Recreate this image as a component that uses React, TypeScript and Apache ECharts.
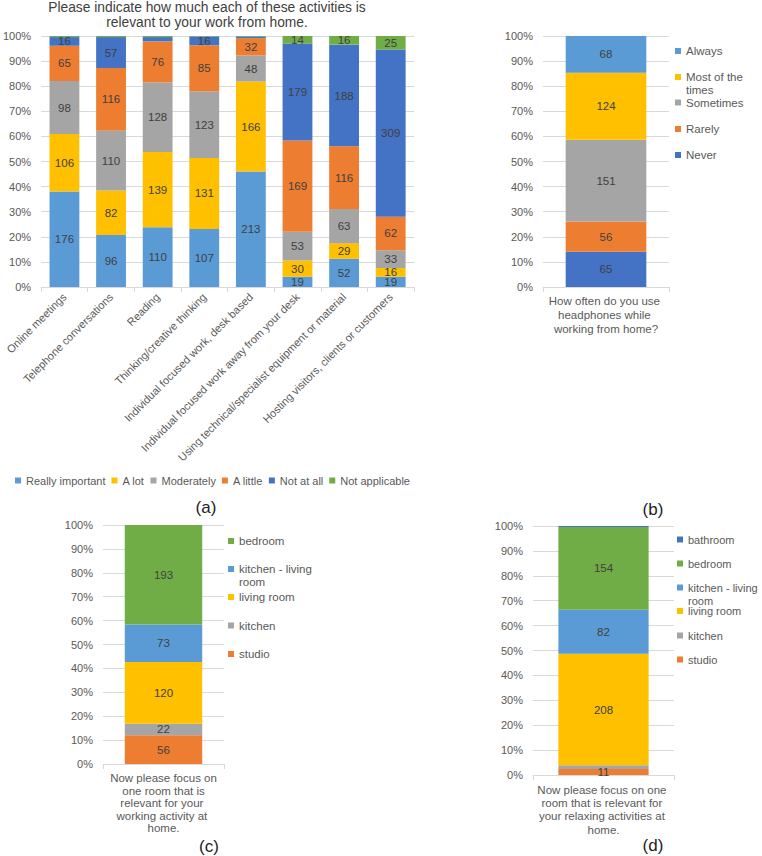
import React, { useEffect, useRef } from "react";
import * as echarts from "echarts";

const FONT = "'Liberation Sans', Arial, sans-serif";

// ---- (a) activities ----
const activityCategories = [
  "Online meetings",
  "Telephone conversations",
  "Reading",
  "Thinking/creative thinking",
  "Individual focused work, desk based",
  "Individual focused work away from your desk",
  "Using technical/specialist equipment or material",
  "Hosting visitors, clients or customers",
];
const reallyImportant = [176, 96, 110, 107, 213, 19, 52, 19];
const aLot = [106, 82, 139, 131, 166, 30, 29, 16];
const moderately = [98, 110, 128, 123, 48, 53, 63, 33];
const aLittle = [65, 116, 76, 85, 32, 169, 116, 62];
const notAtAll = [16, 57, 8, 16, 3, 179, 188, 309];
const notApplicable = [2, 2, 2, 1, 1, 14, 16, 25];

// ---- (b) headphones ----
const headphoneCategory = ["How often do you use headphones while working from home?"];
const hpNever = [65];
const hpRarely = [56];
const hpSometimes = [151];
const hpMostOfTheTimes = [124];
const hpAlways = [68];

// ---- (c) working room ----
const workRoomCategory = ["Now please focus on one room that is relevant for your working activity at home."];
const workStudio = [56];
const workKitchen = [22];
const workLivingRoom = [120];
const workKitchenLiving = [73];
const workBedroom = [193];

// ---- (d) relaxing room ----
const relaxRoomCategory = ["Now please focus on one room that is relevant for your relaxing activities at home."];
const relaxStudio = [11];
const relaxKitchen = [7];
const relaxLivingRoom = [208];
const relaxKitchenLiving = [82];
const relaxBedroom = [154];
const relaxBathroom = [2];

const C = {
  blue: "#5B9BD5",
  yellow: "#FFC000",
  gray: "#A5A5A5",
  orange: "#ED7D31",
  darkBlue: "#4472C4",
  green: "#70AD47",
};

type Group = { name: string; values: number[]; color: string };

function stackedSeries(groups: Group[], idx: number, stack: string) {
  const n = groups[0].values.length;
  const totals = Array.from({ length: n }, (_, j) => groups.reduce((s, g) => s + g.values[j], 0));
  return groups.map((g) => ({
    type: "bar",
    name: g.name,
    stack,
    xAxisIndex: idx,
    yAxisIndex: idx,
    barCategoryGap: "36%",
    data: g.values.map((v, j) => (v / totals[j]) * 100),
    itemStyle: { color: g.color },
    emphasis: { disabled: true },
    label: {
      show: true,
      position: "inside",
      fontSize: 11.5,
      fontFamily: FONT,
      color: "#404040",
      formatter: (p: any) => (g.values[p.dataIndex] >= 10 ? String(g.values[p.dataIndex]) : ""),
    },
  }));
}

const grids = [
  { left: 38, top: 36, width: 376, height: 251 },
  { left: 543, top: 36, width: 126, height: 251 },
  { left: 103, top: 525, width: 121, height: 239 },
  { left: 533, top: 526, width: 141, height: 249 },
];

function yAxis(idx: number) {
  return {
    type: "value",
    gridIndex: idx,
    min: 0,
    max: 100,
    interval: 10,
    axisLine: { show: false },
    axisTick: { show: false },
    splitLine: { lineStyle: { color: "#D9D9D9" } },
    axisLabel: { formatter: "{value}%", fontSize: 11, color: "#595959", margin: 10, fontFamily: FONT },
  };
}

function xAxis(idx: number, data: string[], label: any) {
  return {
    type: "category",
    gridIndex: idx,
    data,
    axisLine: { lineStyle: { color: "#D9D9D9" } },
    axisTick: { show: true, length: 5, lineStyle: { color: "#D9D9D9" } },
    axisLabel: { interval: 0, color: "#595959", fontFamily: FONT, ...label },
  };
}

// square marker at the top of a 6x19 box, so it lines up with the first line of a wrapped name
const TOP_SQUARE = "path://M0 0h6v6h-6Z M3 18.99L3 19";

// one legend component per entry, so each entry sits at the same place as in the reference
function vLegend(entries: { name: string; y: number; breakAfter?: string }[], left: number, fontSize: number) {
  return entries.map((e) => ({
    orient: "vertical",
    left,
    top: e.y - 6.5,
    padding: 0,
    itemWidth: 6,
    itemHeight: e.breakAfter ? 19 : 6,
    icon: e.breakAfter ? TOP_SQUARE : "rect",
    selectedMode: false,
    data: [e.name],
    formatter: (name: string) =>
      e.breakAfter && name.startsWith(e.breakAfter)
        ? e.breakAfter + "\n" + name.slice(e.breakAfter.length).trim()
        : name,
    textStyle: {
      fontSize,
      color: "#595959",
      fontFamily: FONT,
      lineHeight: 13,
    },
  }));
}

export default function App() {
  const ref = useRef<HTMLDivElement>(null);
  useEffect(() => {
    document.body.style.margin = "0";
    if (!ref.current) return;
    const chart = echarts.init(ref.current, undefined, { renderer: "svg" });

    const aGroups: Group[] = [
      { name: "Really important", values: reallyImportant, color: C.blue },
      { name: "A lot", values: aLot, color: C.yellow },
      { name: "Moderately", values: moderately, color: C.gray },
      { name: "A little", values: aLittle, color: C.orange },
      { name: "Not at all", values: notAtAll, color: C.darkBlue },
      { name: "Not applicable", values: notApplicable, color: C.green },
    ];
    const bGroups: Group[] = [
      { name: "Never", values: hpNever, color: C.darkBlue },
      { name: "Rarely", values: hpRarely, color: C.orange },
      { name: "Sometimes", values: hpSometimes, color: C.gray },
      { name: "Most of the times", values: hpMostOfTheTimes, color: C.yellow },
      { name: "Always", values: hpAlways, color: C.blue },
    ];
    const cGroups: Group[] = [
      { name: "studio", values: workStudio, color: C.orange },
      { name: "kitchen", values: workKitchen, color: C.gray },
      { name: "living room", values: workLivingRoom, color: C.yellow },
      { name: "kitchen - living room", values: workKitchenLiving, color: C.blue },
      { name: "bedroom", values: workBedroom, color: C.green },
    ];
    const dGroups: Group[] = [
      { name: "studio", values: relaxStudio, color: C.orange },
      { name: "kitchen", values: relaxKitchen, color: C.gray },
      { name: "living room", values: relaxLivingRoom, color: C.yellow },
      { name: "kitchen - living room", values: relaxKitchenLiving, color: C.blue },
      { name: "bedroom", values: relaxBedroom, color: C.green },
      { name: "bathroom", values: relaxBathroom, color: C.darkBlue },
    ];

    const caption = (text: string, x: number, y: number) => ({
      type: "text",
      x,
      y,
      style: { text, align: "center", verticalAlign: "middle", fontSize: 17, fill: "#222", fontFamily: FONT },
    });

    chart.setOption({
      animation: false,
      textStyle: { fontFamily: FONT },
      grid: grids,
      xAxis: [
        xAxis(0, activityCategories, { rotate: 45, fontSize: 11, margin: 8 }),
        xAxis(1, headphoneCategory, { fontSize: 11.5, width: 120, overflow: "break", lineHeight: 14, margin: 7 }),
        xAxis(2, workRoomCategory, { fontSize: 11.5, width: 108, overflow: "break", lineHeight: 12.5, margin: 8 }),
        xAxis(3, relaxRoomCategory, { fontSize: 11.5, width: 140, overflow: "break", lineHeight: 13.3, margin: 8 }),
      ],
      yAxis: [yAxis(0), yAxis(1), yAxis(2), yAxis(3)],
      legend: [
        {
          orient: "horizontal",
          left: 15,
          top: 475,
          padding: 0,
          itemGap: 6,
          itemWidth: 6,
          itemHeight: 6,
          icon: "rect",
          selectedMode: false,
          data: aGroups.map((g) => g.name),
          textStyle: { fontSize: 11, color: "#595959", fontFamily: FONT },
        },
        ...vLegend(
          [
            { name: "Always", y: 51 },
            { name: "Most of the times", y: 77, breakAfter: "Most of the" },
            { name: "Sometimes", y: 102.5 },
            { name: "Rarely", y: 129 },
            { name: "Never", y: 155 },
          ],
          675, 11.5
        ),
        ...vLegend(
          [
            { name: "bedroom", y: 541 },
            { name: "kitchen - living room", y: 569, breakAfter: "kitchen - living" },
            { name: "living room", y: 597 },
            { name: "kitchen", y: 625.5 },
            { name: "studio", y: 654 },
          ],
          228, 11.5
        ),
        ...vLegend(
          [
            { name: "bathroom", y: 539.5 },
            { name: "bedroom", y: 563.5 },
            { name: "kitchen - living room", y: 587.5, breakAfter: "kitchen - living" },
            { name: "living room", y: 611 },
            { name: "kitchen", y: 635.5 },
            { name: "studio", y: 659.5 },
          ],
          677, 11
        ),
      ],
      graphic: [
        {
          type: "text",
          x: 207,
          y: 14.5,
          style: {
            text: "Please indicate how much each of these activities is\nrelevant to your work from home.",
            align: "center",
            verticalAlign: "middle",
            fontSize: 13.8,
            lineHeight: 15,
            fill: "#404040",
            fontFamily: FONT,
          },
        },
        caption("(a)", 206, 507),
        caption("(b)", 653, 509),
        caption("(c)", 209, 846),
        caption("(d)", 653, 845),
      ],
      series: [
        ...stackedSeries(aGroups, 0, "a"),
        ...stackedSeries(bGroups, 1, "b"),
        ...stackedSeries(cGroups, 2, "c"),
        ...stackedSeries(dGroups, 3, "d"),
      ],
    } as any);

    return () => chart.dispose();
  }, []);
  return <div ref={ref} style={{ width: 762, height: 856 }} />;
}
